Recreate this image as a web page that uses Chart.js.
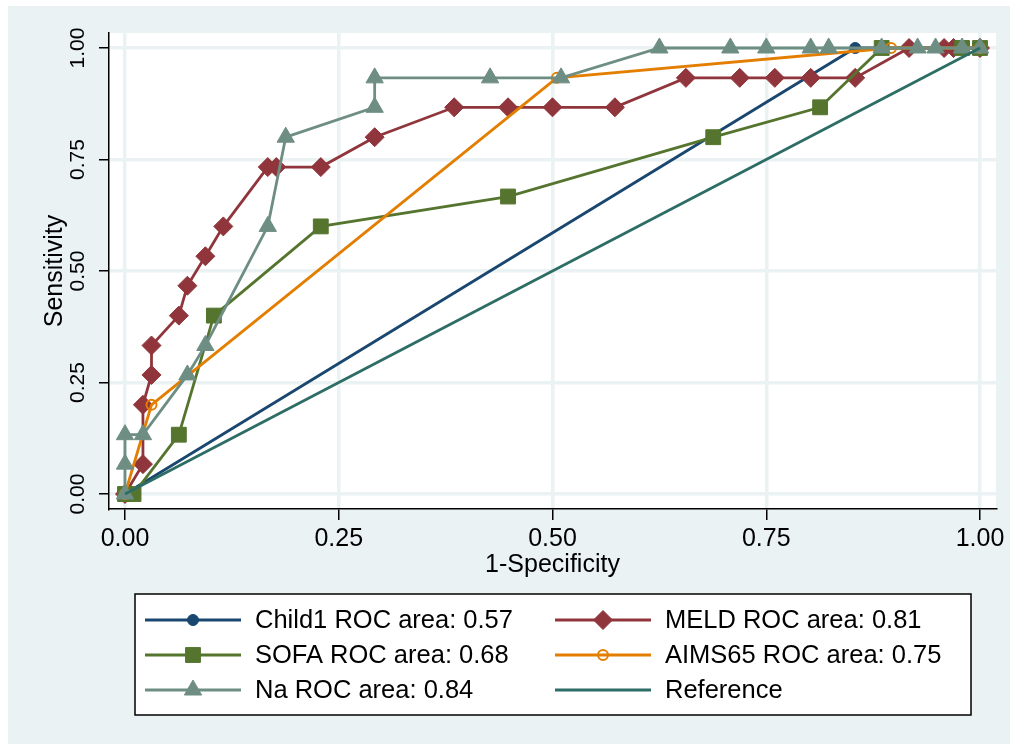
<!DOCTYPE html>
<html lang="en">
<head>
<meta charset="UTF-8">
<title>ROC curves</title>
<script src="https://cdn.jsdelivr.net/npm/chart.js"></script>
<style>
  html, body { margin: 0; padding: 0; background: #fff; }
  #wrap { width: 1010px; height: 744px; }
</style>
</head>
<body>
<div id="wrap"><canvas id="roc" width="1010" height="744"></canvas></div>
<script>
// 1-specificity (x) and sensitivity (y)
const child1X = [0, 0.854, 1];
const child1Y = [0, 1, 1];
const meldX = [0, 0.021, 0.021, 0.031, 0.031, 0.063, 0.073, 0.094, 0.115, 0.167, 0.177, 0.229, 0.292, 0.385, 0.448, 0.5, 0.573, 0.656, 0.719, 0.76, 0.802, 0.854, 0.917, 0.958, 0.969, 1];
const meldY = [0, 0.067, 0.2, 0.267, 0.333, 0.4, 0.467, 0.533, 0.6, 0.733, 0.733, 0.733, 0.8, 0.867, 0.867, 0.867, 0.867, 0.933, 0.933, 0.933, 0.933, 0.933, 1, 1, 1, 1];
const sofaX = [0, 0.010, 0.063, 0.104, 0.229, 0.448, 0.688, 0.813, 0.885, 0.979, 1];
const sofaY = [0, 0, 0.133, 0.4, 0.6, 0.667, 0.8, 0.867, 1, 1, 1];
const aimsX = [0, 0.031, 0.505, 0.896, 1];
const aimsY = [0, 0.2, 0.933, 1, 1];
const naX = [0, 0, 0, 0.021, 0.073, 0.094, 0.167, 0.188, 0.292, 0.292, 0.427, 0.51, 0.625, 0.708, 0.75, 0.802, 0.823, 0.885, 0.927, 0.948, 0.979, 1];
const naY = [0, 0.067, 0.133, 0.133, 0.267, 0.333, 0.6, 0.8, 0.867, 0.933, 0.933, 0.933, 1, 1, 1, 1, 1, 1, 1, 1, 1, 1];
const refX = [0, 1];
const refY = [0, 1];

const seriesNames = ['Child1 ROC area: 0.57', 'MELD ROC area: 0.81', 'SOFA ROC area: 0.68',
    'AIMS65 ROC area: 0.75', 'Na ROC area: 0.84', 'Reference'];
const tickValues = [0, 0.25, 0.5, 0.75, 1];

const FONT = "'Liberation Sans', Arial, sans-serif";
const GRID = '#EAF2F3';

function pts(xs, ys) {
    return xs.map((x, i) => ({ x: x, y: ys[i] }));
}

function series(label, xs, ys, color, style, radius, order, fill, markerBorder) {
    return {
        label: label,
        data: pts(xs, ys),
        borderColor: color,
        backgroundColor: fill || color,
        borderWidth: 2.8,
        pointStyle: style,
        pointRadius: radius,
        pointHoverRadius: radius,
        pointBorderColor: color,
        pointBackgroundColor: fill || color,
        pointBorderWidth: markerBorder || 1,
        tension: 0,
        order: order
    };
}

// grey surround + white plot region
const frame = {
    id: 'frame',
    beforeDraw(chart) {
        const { ctx, width, height, chartArea: a } = chart;
        ctx.save();
        ctx.fillStyle = '#ffffff';
        ctx.fillRect(0, 0, width, height);
        ctx.fillStyle = GRID;
        ctx.fillRect(8, 6, width - 8, height - 6);
        ctx.fillStyle = '#ffffff';
        ctx.fillRect(a.left, a.top, a.right - a.left, a.bottom - a.top);
        ctx.restore();
    }
};

// two column legend with line + marker keys
const stataLegend = {
    id: 'stataLegend',
    afterDraw(chart) {
        const ctx = chart.ctx;
        const box = { left: 135, top: 594, right: 971, bottom: 715 };
        const colX = [145, 555];
        const rowY = [620, 655, 690];
        ctx.save();
        ctx.fillStyle = '#ffffff';
        ctx.fillRect(box.left, box.top, box.right - box.left, box.bottom - box.top);
        ctx.strokeStyle = '#000000';
        ctx.lineWidth = 1.5;
        ctx.strokeRect(box.left, box.top, box.right - box.left, box.bottom - box.top);

        chart.data.datasets.forEach((ds, i) => {
            const x0 = colX[i % 2];
            const y0 = rowY[Math.floor(i / 2)];
            ctx.strokeStyle = ds.borderColor;
            ctx.lineWidth = ds.borderWidth;
            ctx.beginPath();
            ctx.moveTo(x0, y0);
            ctx.lineTo(x0 + 96, y0);
            ctx.stroke();
            if (ds.pointRadius > 0) {
                ctx.fillStyle = ds.pointBackgroundColor;
                ctx.strokeStyle = ds.pointBorderColor;
                ctx.lineWidth = ds.pointBorderWidth;
                Chart.helpers.drawPoint(ctx, {
                    pointStyle: ds.pointStyle, radius: ds.pointRadius,
                    rotation: 0, borderWidth: ds.pointBorderWidth
                }, x0 + 48, y0);
            }
            ctx.fillStyle = '#000000';
            ctx.font = '25.5px ' + FONT;
            ctx.textBaseline = 'middle';
            ctx.textAlign = 'left';
            ctx.fillText(ds.label, x0 + 110, y0 + 1);
        });
        ctx.restore();
    }
};

const ctx = document.getElementById('roc').getContext('2d');
const rocChart = new Chart(ctx, {
    type: 'line',
    data: {
        datasets: [
            series(seriesNames[0], child1X, child1Y, '#1A476F', 'circle', 5.5, 5),
            series(seriesNames[1], meldX, meldY, '#90353B', 'rectRot', 9.5, 4),
            series(seriesNames[2], sofaX, sofaY, '#55752F', 'rect', 10.5, 3),
            series(seriesNames[3], aimsX, aimsY, '#E37E00', 'circle', 5, 2, 'rgba(0,0,0,0)', 2),
            series(seriesNames[4], naX, naY, '#6E8E84', 'triangle', 10, 1),
            series(seriesNames[5], refX, refY, '#2D6D66', 'circle', 0, 0)
        ]
    },
    options: {
        responsive: false,
        animation: false,
        devicePixelRatio: 1,
        layout: { padding: { left: 40, top: 33, right: 14, bottom: 164 } },
        plugins: {
            legend: { display: false },
            tooltip: { enabled: false }
        },
        scales: {
            x: {
                type: 'linear',
                min: -0.0187,
                max: 1.0187,
                afterBuildTicks: s => { s.ticks = tickValues.map(v => ({ value: v })); },
                afterFit: s => { s.height = 71; },
                grid: { color: GRID, lineWidth: 3.5, tickLength: 11, tickColor: '#000000', tickWidth: 1.5 },
                border: { color: '#000000', width: 1.5 },
                ticks: {
                    color: '#000000', padding: 4, maxRotation: 0,
                    font: { family: FONT, size: 25 },
                    callback: v => v.toFixed(2)
                },
                title: { display: true, text: '1-Specificity', color: '#000000', padding: 0, font: { family: FONT, size: 25 } }
            },
            y: {
                type: 'linear',
                min: -0.0336,
                max: 1.0336,
                afterBuildTicks: s => { s.ticks = tickValues.map(v => ({ value: v })); },
                afterFit: s => { s.width = 69; },
                grid: { color: GRID, lineWidth: 3.5, tickLength: 10, tickColor: '#000000', tickWidth: 1.5 },
                border: { color: '#000000', width: 1.5 },
                ticks: {
                    color: '#000000', padding: 0, minRotation: 90, maxRotation: 90, crossAlign: 'center',
                    font: { family: FONT, size: 21 },
                    callback: v => v.toFixed(2)
                },
                title: { display: true, text: 'Sensitivity', color: '#000000', padding: 0, font: { family: FONT, size: 25 } }
            }
        }
    },
    plugins: [frame, stataLegend]
});
</script>
</body>
</html>
